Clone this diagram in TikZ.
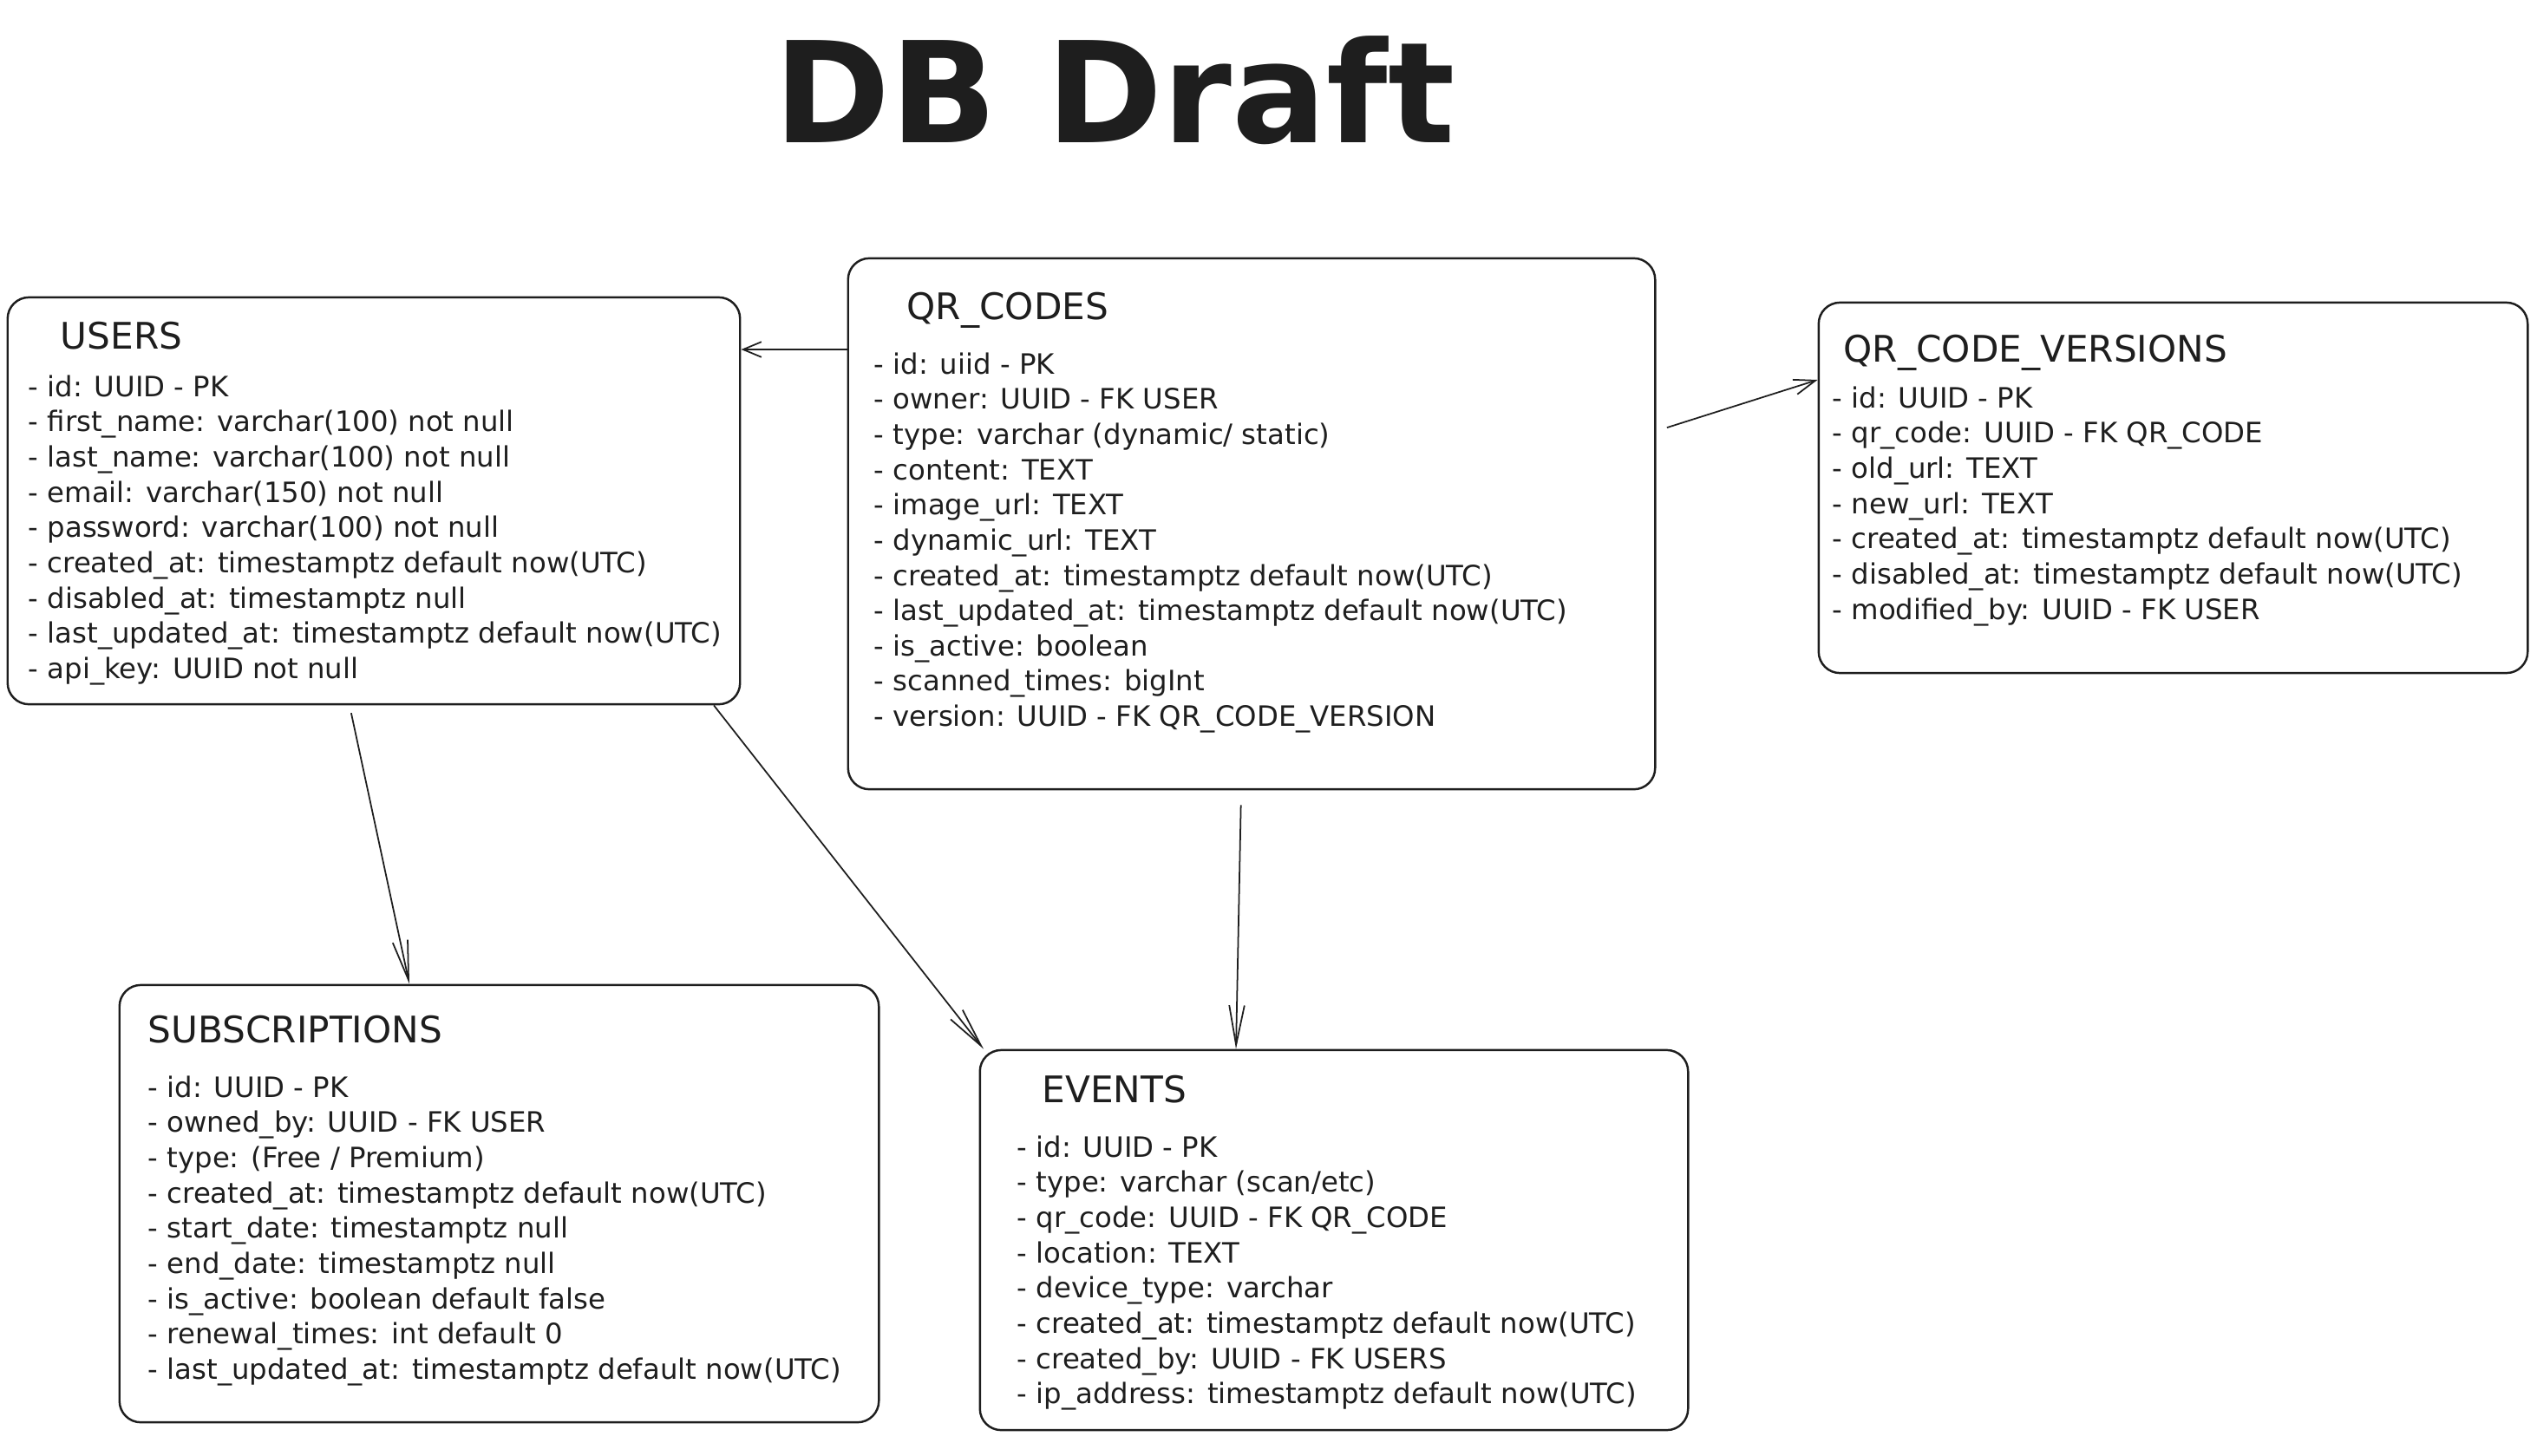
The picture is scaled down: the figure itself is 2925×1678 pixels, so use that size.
\documentclass[tikz,border=0pt]{standalone}
\usepackage{fontspec}
\setmainfont{DejaVu Sans}
\usetikzlibrary{arrows.meta}
\definecolor{ink}{HTML}{1E1E1E}
\tikzset{
  tbl/.style={draw=ink, line width=0.7pt, rounded corners=7pt, inner sep=0pt},
  tbltitle/.style={anchor=base west, inner sep=0pt, font=\fontsize{12}{14}\selectfont},
  tblbody/.style={anchor=north west, inner sep=0pt, align=left, font=\fontsize{9.2}{11.55}\selectfont},
  link/.style={draw=ink, line width=0.5pt, -{Straight Barb[length=#1,width=5pt]}},
  link/.default=13pt
}

\begin{document}
\begin{tikzpicture}[x=0.01cm,y=-0.01cm,text=ink]
    \useasboundingbox (0,0) rectangle (2925,1678);
    \node[anchor=base, inner sep=0pt, font=\bfseries\fontsize{46}{50}\selectfont] (title) at (1285,164) {DB Draft};

    % tables
    \node[tbl, minimum width=8.44cm, minimum height=4.69cm] (users) at (431,577.5) {};
    \node[tbl, minimum width=9.30cm, minimum height=6.12cm] (qr) at (1443,604) {};
    \node[tbl, minimum width=8.17cm, minimum height=4.27cm] (ver) at (2505.5,562.5) {};
    \node[tbl, minimum width=8.75cm, minimum height=5.04cm] (subs) at (575.5,1388) {};
    \node[tbl, minimum width=8.16cm, minimum height=4.38cm] (events) at (1538,1430) {};

    \node[tbltitle] (users-t) at (69,402) {USERS};
    \node[tblbody] (users-b) at (32,432) {- id: UUID - PK\\
        - first\_name: varchar(100) not null\\
        - last\_name: varchar(100) not null\\
        - email: varchar(150) not null\\
        - password: varchar(100) not null\\
        - created\_at: timestamptz default now(UTC)\\
        - disabled\_at: timestamptz null\\
        - last\_updated\_at: timestamptz default now(UTC)\\
        - api\_key: UUID not null};

    \node[tbltitle] (qr-t) at (1045,368) {QR\_CODES};
    \node[tblbody] (qr-b) at (1007,406) {- id: uiid - PK\\
        - owner: UUID - FK USER\\
        - type: varchar (dynamic/ static)\\
        - content: TEXT\\
        - image\_url: TEXT\\
        - dynamic\_url: TEXT\\
        - created\_at: timestamptz default now(UTC)\\
        - last\_updated\_at: timestamptz default now(UTC)\\
        - is\_active: boolean\\
        - scanned\_times: bigInt\\
        - version: UUID - FK QR\_CODE\_VERSION};

    \node[tbltitle] (ver-t) at (2125,417) {QR\_CODE\_VERSIONS};
    \node[tblbody] (ver-b) at (2112,445) {- id: UUID - PK\\
        - qr\_code: UUID - FK QR\_CODE\\
        - old\_url: TEXT\\
        - new\_url: TEXT\\
        - created\_at: timestamptz default now(UTC)\\
        - disabled\_at: timestamptz default now(UTC)\\
        - modified\_by: UUID - FK USER};

    \node[tbltitle] (subs-t) at (170,1202) {SUBSCRIPTIONS};
    \node[tblbody] (subs-b) at (170,1240) {- id: UUID - PK\\
        - owned\_by: UUID - FK USER\\
        - type: (Free / Premium)\\
        - created\_at: timestamptz default now(UTC)\\
        - start\_date: timestamptz null\\
        - end\_date: timestamptz null\\
        - is\_active: boolean default false\\
        - renewal\_times: int default 0\\
        - last\_updated\_at: timestamptz default now(UTC)};

    \node[tbltitle] (events-t) at (1201,1271) {EVENTS};
    \node[tblbody] (events-b) at (1172,1309) {- id: UUID - PK\\
        - type: varchar (scan/etc)\\
        - qr\_code: UUID - FK QR\_CODE\\
        - location: TEXT\\
        - device\_type: varchar\\
        - created\_at: timestamptz default now(UTC)\\
        - created\_by: UUID - FK USERS\\
        - ip\_address: timestamptz default now(UTC)};

    % links
    \draw[link=6pt] (qr.west |- 0,403) -- (users.east |- 0,403);
    \draw[link=7pt, shorten <=0.13cm] (qr.east |- 0,497) -- (ver.west |- 0,438);
    \draw[link, shorten <=0.09cm] (users.south -| 403,0) -- (subs.north -| 472,0);
    \draw[link] (users.south -| 823,0) -- (events.north -| 1134,0);
    \draw[link, shorten <=0.17cm] (qr.south -| 1431,0) -- (events.north -| 1425,0);
\end{tikzpicture}
\end{document}
